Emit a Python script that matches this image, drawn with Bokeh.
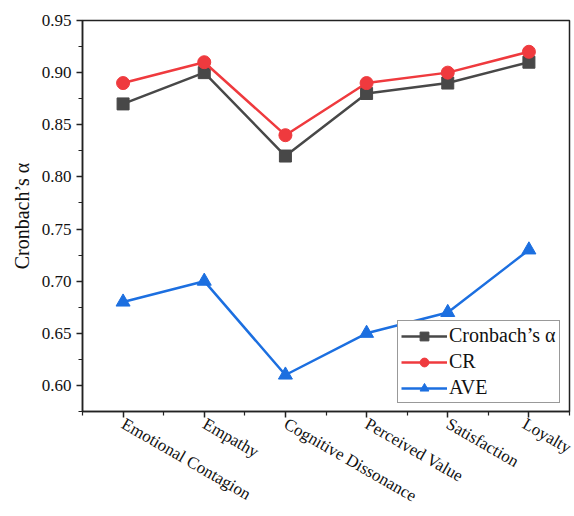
from bokeh.plotting import figure
from bokeh.models import FixedTicker, Range1d, Legend, LegendItem, NumeralTickFormatter
from bokeh.embed import file_html
from bokeh.resources import INLINE
import math

categories = ["Emotional Contagion", "Empathy", "Cognitive Dissonance", "Perceived Value", "Satisfaction", "Loyalty"]
cronbach = [0.87, 0.90, 0.82, 0.88, 0.89, 0.91]
cr = [0.89, 0.91, 0.84, 0.89, 0.90, 0.92]
ave = [0.68, 0.70, 0.61, 0.65, 0.67, 0.73]
y_ticks = [0.60, 0.65, 0.70, 0.75, 0.80, 0.85, 0.90, 0.95]

xs = list(range(len(categories)))
FONT = "'Liberation Serif', 'Times New Roman', Times, serif"

p = figure(width=574, height=516, output_backend="svg", toolbar_location=None,
           x_range=Range1d(-0.5, 5.5), y_range=Range1d(0.575, 0.95),
           min_border_left=82, min_border_right=5, min_border_top=20, min_border_bottom=103)
p.grid.visible = False
p.outline_line_color = "#222222"
p.outline_line_width = 1.5
p.background_fill_color = "white"
p.border_fill_color = "white"

gray = "#484848"
red = "#ef3a3e"
blue = "#1c6fe0"

l1 = p.line(xs, cronbach, line_color=gray, line_width=2.5)
m1 = p.scatter(xs, cronbach, marker="square", size=12, fill_color=gray, line_color=gray)
l2 = p.line(xs, cr, line_color=red, line_width=2.5)
m2 = p.scatter(xs, cr, marker="circle", size=13, fill_color=red, line_color=red)
l3 = p.line(xs, ave, line_color=blue, line_width=2.5)
m3 = p.scatter(xs, ave, marker="triangle", size=14, fill_color=blue, line_color=blue)

xa = p.xaxis[0]
xa.ticker = FixedTicker(ticks=xs, minor_ticks=[i + 0.5 for i in range(-1, 6)])
xa.major_label_overrides = {i: c for i, c in enumerate(categories)}
xa.major_label_orientation = -math.pi / 6
xa.major_label_standoff = 5
ya = p.yaxis[0]
ya.ticker = FixedTicker(ticks=y_ticks, minor_ticks=[0.575 + 0.025 * i for i in range(16)])
ya.formatter = NumeralTickFormatter(format="0.00")
ya.axis_label = "Cronbach’s α"
ya.axis_label_standoff = 6

for ax in (xa, ya):
    ax.axis_line_color = "#222222"
    ax.axis_line_width = 1.5
    ax.major_tick_line_color = "#222222"
    ax.minor_tick_line_color = "#222222"
    ax.major_tick_line_width = 1.5
    ax.minor_tick_line_width = 1.2
    ax.major_tick_in = 0
    ax.major_tick_out = 6
    ax.minor_tick_in = 0
    ax.minor_tick_out = 4
    ax.major_label_text_font = FONT
    ax.major_label_text_font_size = "17px"
    ax.major_label_text_color = "#111111"
    ax.axis_label_text_font = FONT
    ax.axis_label_text_font_size = "20px"
    ax.axis_label_text_font_style = "normal"
    ax.axis_label_text_color = "#111111"

legend = Legend(items=[
    LegendItem(label="Cronbach’s α", renderers=[l1, m1]),
    LegendItem(label="CR", renderers=[l2, m2]),
    LegendItem(label="AVE", renderers=[l3, m3]),
], location=(315, 8))
legend.label_text_font = FONT
legend.label_text_font_size = "20px"
legend.label_text_color = "#111111"
legend.border_line_color = "#333333"
legend.border_line_width = 1
legend.glyph_width = 46
legend.glyph_height = 22
legend.label_height = 22
legend.spacing = 3
legend.padding = 3
legend.margin = 0
legend.label_standoff = 2
legend.background_fill_alpha = 1
p.add_layout(legend, "center")

open("out.html", "w").write(file_html(p, INLINE))
